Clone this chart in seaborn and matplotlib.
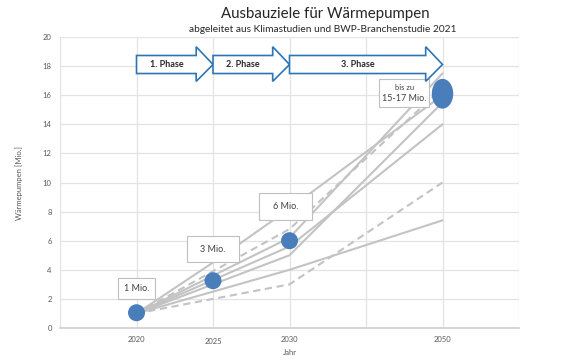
import pandas as pd
import seaborn as sns
import matplotlib.pyplot as plt
from matplotlib.patches import Ellipse, Polygon, Rectangle

# data
years = ['2020', '2025', '2030', '2050']
year_pos = [1, 2, 3, 5]  # 2050 sits two grid steps right of 2030

scenario_a = [1.0, 4.5, 8.2, 16.0]
scenario_b = [1.0, 3.6, 6.2, 17.5]
scenario_c = [1.0, 3.0, 5.0, 15.5]
scenario_d = [1.0, 3.3, 5.6, 14.0]
scenario_e = [1.0, 2.5, 4.0, 7.4]
scenario_f = [1.0, 3.9, 6.8, 16.5]
scenario_g = [1.0, 2.0, 3.0, 10.0]
scenario_names = ['A', 'B', 'C', 'D', 'E', 'F', 'G']
scenario_values = [scenario_a, scenario_b, scenario_c, scenario_d,
                   scenario_e, scenario_f, scenario_g]
scenario_kind = ['solid', 'solid', 'solid', 'solid', 'solid', 'dashed', 'dashed']

target_values = [1.05, 3.25, 6.0, 16.1]
target_labels = ['1 Mio.', '3 Mio.', '6 Mio.', '15-17 Mio.']
label_x = [1.0, 2.0, 2.95, 4.5]
label_y = [2.7, 5.4, 8.35, 16.15]

phases = ['1. Phase', '2. Phase', '3. Phase']
phase_start = [1, 2, 3]
phase_end = [2, 3, 5]

rows = []
for name, vals, kind in zip(scenario_names, scenario_values, scenario_kind):
    for p, v in zip(year_pos, vals):
        rows.append({'scenario': name, 'pos': p, 'value': v, 'kind': kind})
df = pd.DataFrame(rows)

sns.set_theme(style='white')
plt.rcParams['font.family'] = ['Lato', 'DejaVu Sans']

fig = plt.figure(figsize=(5.85, 3.61), dpi=100)
ax = fig.add_axes([0.1026, 0.0914, 0.7846, 0.8061])

grey_line = '#c3c3c3'
blue = '#4a7ebb'
sns.lineplot(data=df, x='pos', y='value', units='scenario', estimator=None,
             style='kind', dashes={'solid': '', 'dashed': (3.5, 2.2)},
             color=grey_line, linewidth=1.5, legend=False, ax=ax, zorder=2)

# target dots
sns.scatterplot(x=year_pos[:3], y=target_values[:3], s=150, color=blue,
                edgecolor='none', ax=ax, zorder=4)
ax.add_patch(Ellipse((year_pos[3], target_values[3]), 0.28, 2.05,
                     facecolor=blue, edgecolor='none', zorder=4))

# label boxes
box_w = [0.48, 0.69, 0.69, 0.65]
box_h = [1.44, 1.79, 1.86, 1.92]
for i, lab in enumerate(target_labels):
    ax.add_patch(Rectangle((label_x[i] - box_w[i] / 2, label_y[i] - box_h[i] / 2),
                           box_w[i], box_h[i], facecolor='white',
                           edgecolor='#bfbfbf', linewidth=0.8, zorder=5))
    if i == 3:
        ax.text(label_x[i], label_y[i] + 0.4, 'bis zu', ha='center', va='center',
                fontsize=5.5, color='#404040', zorder=6)
        ax.text(label_x[i], label_y[i] - 0.35, lab, ha='center', va='center',
                fontsize=6.5, color='#404040', zorder=6)
    else:
        ax.text(label_x[i], label_y[i], lab, ha='center', va='center',
                fontsize=6.5, color='#404040', zorder=6)

# phase arrows
body_top, body_bot = 18.73, 17.49
head_top, head_bot = 19.33, 16.95
head_len = 0.22
for ph, x0, x1 in zip(phases, phase_start, phase_end):
    mid = (body_top + body_bot) / 2
    pts = [(x0, body_top), (x1 - head_len, body_top), (x1 - head_len, head_top),
           (x1, mid), (x1 - head_len, head_bot), (x1 - head_len, body_bot),
           (x0, body_bot)]
    ax.add_patch(Polygon(pts, closed=True, facecolor='white', edgecolor='#2e75b6',
                         linewidth=1.2, zorder=5))
    ax.text((x0 + x1 - head_len) / 2, mid, ph, ha='center', va='center',
            fontsize=6.5, fontweight='bold', color='#262626', zorder=6)

ax.set_xlim(0, 6)
ax.set_ylim(0, 20)
ax.set_xticks(range(0, 7))
ax.set_xticklabels(['', '2020', '2025', '2030', '', '2050', ''])
ax.set_yticks(range(0, 21, 2))
ax.tick_params(axis='both', length=0, labelsize=5.5, labelcolor='#595959', pad=6)
ax.get_xticklabels()[2].set_y(-0.006)
ax.grid(True, color='#e3e3e3', linewidth=0.9)
for side in ['top', 'right', 'left']:
    ax.spines[side].set_visible(False)
ax.spines['bottom'].set_color('#d0d0d0')
ax.set_xlabel('Jahr', fontsize=5.5, color='#595959', labelpad=3)
ax.set_ylabel('Wärmepumpen [Mio.]', fontsize=5.5, color='#595959', labelpad=14)

fig.text(0.556, 0.962, 'Ausbauziele für Wärmepumpen', ha='center', va='center',
         fontsize=10.8, color='#262626')
fig.text(0.552, 0.918, 'abgeleitet aus Klimastudien und BWP-Branchenstudie 2021',
         ha='center', va='center', fontsize=7.3, color='#262626')

fig.savefig('out.png', dpi=100, facecolor='white')
